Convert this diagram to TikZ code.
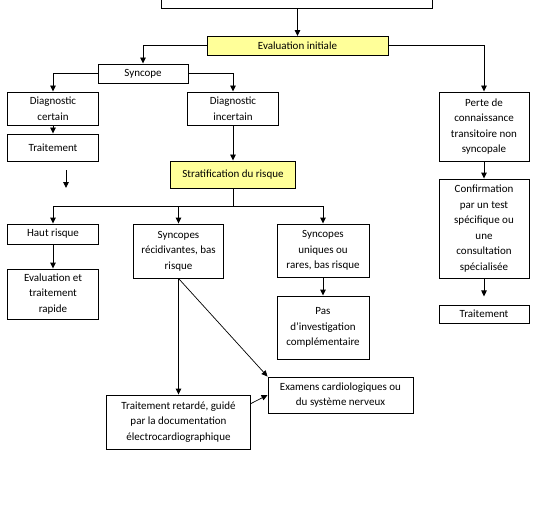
\documentclass[tikz,border=0pt]{standalone}
\usepackage{fontspec}
\setmainfont{Carlito}
\usetikzlibrary{arrows.meta}
\definecolor{hl}{HTML}{FFFF99}
\begin{document}
\begin{tikzpicture}[x=1pt,y=-1pt,
  box/.style={draw,line width=0.9pt,align=center,inner sep=1pt,font=\fontsize{11}{15.5}\selectfont},
  hbox/.style={box,fill=hl},
  arr/.style={line width=0.9pt,-{Triangle[length=6pt,width=5.5pt]}},
  ln/.style={line width=0.9pt}]
\useasboundingbox (0,0) rectangle (538,516);
\node[box,minimum width=271pt,minimum height=18pt] (top) at (296.5,-1) {};
\node[hbox,minimum width=181pt,minimum height=18.5pt] (eval) at (297.5,45.75) {Evaluation initiale};
\node[box,minimum width=90pt,minimum height=19pt] (sync) at (143,73.5) {Syncope};
\node[box,minimum width=91pt,minimum height=33pt] (dcert) at (53,108.5) {Diagnostic\\certain};
\node[box,minimum width=91pt,minimum height=33pt] (dinc) at (233,108.5) {Diagnostic\\incertain};
\node[box,minimum width=90pt,minimum height=69pt] (perte) at (484,126.5) {Perte de\\connaissance\\transitoire non\\syncopale};
\node[box,minimum width=91pt,minimum height=27pt] (trait1) at (53,147.5) {Traitement};
\node[hbox,minimum width=125pt,minimum height=27pt] (strat) at (233,174.5) {Stratification du risque};
\node[box,minimum width=90pt,minimum height=99pt] (conf) at (484,228.5) {Confirmation\\par un test\\spécifique ou\\une\\consultation\\spécialisée};
\node[box,minimum width=90pt,minimum height=18pt] (trait2) at (484,314) {Traitement};
\node[box,minimum width=91pt,minimum height=20pt] (haut) at (53,234) {Haut risque};
\node[box,minimum width=90pt,minimum height=54pt] (srec) at (178.5,251) {Syncopes\\récidivantes, bas\\risque};
\node[box,minimum width=92pt,minimum height=53pt] (suniq) at (323,250.5) {Syncopes\\uniques ou\\rares, bas risque};
\node[box,minimum width=91pt,minimum height=50pt] (evrap) at (53,294) {Evaluation et\\traitement\\rapide};
\node[box,minimum width=92pt,minimum height=63pt] (pas) at (323,327.5) {Pas\\d’investigation\\complémentaire};
\node[box,minimum width=145pt,minimum height=36pt] (exam) at (340.5,395) {Examens cardiologiques ou\\du système nerveux};
\node[box,minimum width=144pt,minimum height=54pt] (tret) at (178.5,422) {Traitement retardé, guidé\\par la documentation\\électrocardiographique};
\coordinate (s1) at (66,170);
\coordinate (s2) at (66,188);
\coordinate (split) at (233,206);
\draw[arr] (eval.north |- top.south) -- (eval.north);
\draw[arr] (eval.west) -| (sync.north);
\draw[arr] (eval.east) -| (perte.north);
\draw[arr] (sync.west) -| (dcert.north);
\draw[arr] (sync.east) -| (dinc.north);
\draw[arr] (dcert.south) -- (trait1.north);
\draw[arr] (dinc.south) -- (strat.north);
\draw[arr] (s1) -- (s2);
\draw[ln] (strat.south) -- (split);
\draw[ln] (haut.north |- split) -- (suniq.north |- split);
\draw[arr] (haut.north |- split) -- (haut.north);
\draw[arr] (srec.north |- split) -- (srec.north);
\draw[arr] (suniq.north |- split) -- (suniq.north);
\draw[arr] (haut.south) -- (evrap.north);
\draw[arr] (srec.south) -- (tret.north);
\draw[arr,line width=0.7pt] (srec.south) -- (exam.north west);
\draw[arr,line width=0.7pt] ([yshift=-9pt]tret.north east) -- (exam.west);
\draw[arr] (suniq.south) -- (pas.north);
\draw[arr] (perte.south) -- (conf.north);
\draw[arr] (conf.south) -- ++(0,18);
\end{tikzpicture}
\end{document}
